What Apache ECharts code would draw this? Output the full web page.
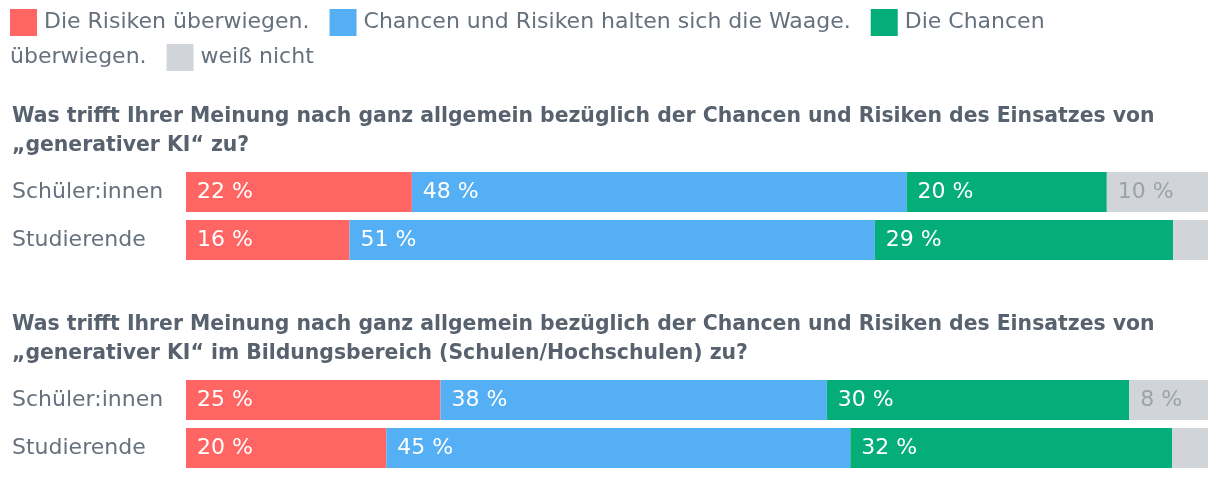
<!DOCTYPE html>
<html><head><meta charset="utf-8">
<script src="https://cdn.jsdelivr.net/npm/echarts@6/dist/echarts.min.js"></script>
<style>html,body{margin:0;padding:0;background:#fff}#c{width:1220px;height:480px}</style>
</head><body><div id="c"></div>
<script>
const categories = ['Schüler:innen', 'Studierende'];
const seriesNames = ['Die Risiken überwiegen.', 'Chancen und Risiken halten sich die Waage.', 'Die Chancen überwiegen.', 'weiß nicht'];
const colors = ['#ff6562', '#55aff5', '#05ae79', '#d1d5d9'];
const titles = [
  'Was trifft Ihrer Meinung nach ganz allgemein bezüglich der Chancen und Risiken des Einsatzes von\n„generativer KI“ zu?',
  'Was trifft Ihrer Meinung nach ganz allgemein bezüglich der Chancen und Risiken des Einsatzes von\n„generativer KI“ im Bildungsbereich (Schulen/Hochschulen) zu?'
];
// question 1
const q1Risiken = [22.1, 16.0];
const q1Waage = [48.4, 51.4];
const q1Chancen = [19.6, 29.2];
const q1WeissNicht = [9.9, 3.4];
// question 2
const q2Risiken = [24.9, 19.6];
const q2Waage = [37.8, 45.4];
const q2Chancen = [29.6, 31.5];
const q2WeissNicht = [7.7, 3.5];

const FONT = '"DejaVu Sans", sans-serif';
const textColor = '#66717d';
const titleColor = '#57626e';

const groups = [[q1Risiken, q1Waage, q1Chancen, q1WeissNicht], [q2Risiken, q2Waage, q2Chancen, q2WeissNicht]];
const gridTops = [168, 376];

const grid = gridTops.map(t => ({left: 186, right: 12, top: t, height: 96}));
const xAxis = gridTops.map((t, i) => ({type: 'value', gridIndex: i, min: 0, max: 100, show: false}));
const yAxis = gridTops.map((t, i) => ({
  type: 'category', gridIndex: i, data: categories, inverse: true,
  axisLine: {show: false}, axisTick: {show: false}, splitLine: {show: false},
  axisLabel: {align: 'left', margin: 174, fontFamily: FONT, fontSize: 22, color: textColor}
}));

const series = [];
groups.forEach((g, gi) => {
  g.forEach((vals, si) => {
    series.push({
      type: 'bar', name: seriesNames[si], stack: 'g' + gi, xAxisIndex: gi, yAxisIndex: gi,
      data: vals, barWidth: 40, itemStyle: {color: colors[si]},
      label: {
        show: true, position: 'insideLeft', distance: 11,
        fontFamily: FONT, fontSize: 22,
        color: si === 3 ? '#9ba2aa' : '#ffffff',
        formatter: p => p.value < 5 ? '' : Math.round(p.value) + ' %'
      },
      emphasis: {disabled: true}
    });
  });
});

// legend as wrapped rich text (greedy word wrap, like the original)
const ctx = document.createElement('canvas').getContext('2d');
ctx.font = '22px ' + FONT;
const MARK = 27, SP = ctx.measureText(' ').width, GAP = 20, MAXW = 1100;
const rich = {
  t: {font: '22px ' + FONT, fill: textColor, lineHeight: 35},
  sp: {width: GAP, lineHeight: 35}
};
colors.forEach((c, i) => { rich['m' + i] = {backgroundColor: c, width: MARK, height: MARK, lineHeight: 35}; });
let out = '', x = 0;
seriesNames.forEach((n, i) => {
  if (i > 0) { out += '{sp|}'; x += GAP; }
  out += '{m' + i + '|}{t| }'; x += MARK + SP;
  n.split(' ').forEach((w, wi) => {
    const ww = ctx.measureText((wi ? ' ' : '') + w).width;
    if (x + ww > MAXW) { out += '\n{t|' + w + '}'; x = ctx.measureText(w).width; }
    else { out += '{t|' + (wi ? ' ' : '') + w + '}'; x += ww; }
  });
});

const option = {
  animation: false,
  title: titles.map((t, i) => ({
    text: t, left: 7, top: [97, 305][i],
    textStyle: {fontFamily: FONT, fontSize: 20.4, fontWeight: 'bold', color: titleColor, lineHeight: 29}
  })),
  grid, xAxis, yAxis, series,
  graphic: [{
    type: 'text', left: 10, top: 9,
    style: {text: out, rich, font: '22px ' + FONT, fill: textColor}
  }]
};
const chart = echarts.init(document.getElementById('c'), null, {renderer: 'canvas'});
chart.setOption(option);
</script></body></html>
